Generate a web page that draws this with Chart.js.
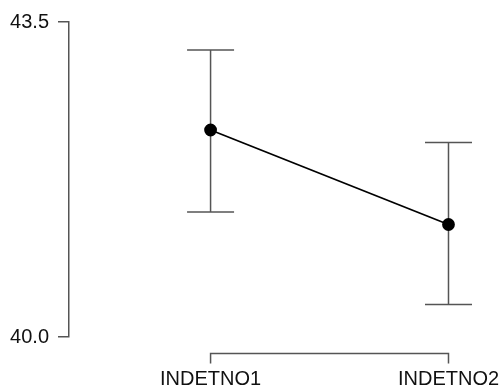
<!DOCTYPE html>
<html>
<head>
<meta charset="utf-8">
<script src="https://cdn.jsdelivr.net/npm/chart.js@4"></script>
<style>
  body { margin: 0; background: #fff; }
  #wrap { width: 501px; height: 389px; }
</style>
</head>
<body>
<div id="wrap"><canvas id="meansChart" width="501" height="389"></canvas></div>
<script>
// values
const categories = ['INDETNO1', 'INDETNO2'];
const means = [42.30, 41.25];
const upper = [43.19, 42.16];
const lower = [41.39, 40.36];
const yTicks = [40.0, 43.5];

const axisColor = '#555';

// error bars + R style bracket axis under the points
const errorBars = {
    id: 'errorBars',
    beforeDatasetsDraw(chart) {
        const { ctx, scales: { x, y }, chartArea } = chart;
        ctx.save();
        ctx.strokeStyle = axisColor;
        ctx.lineWidth = 1.5;
        categories.forEach((c, i) => {
            const px = x.getPixelForValue(i + 1);
            const top = y.getPixelForValue(upper[i]);
            const bot = y.getPixelForValue(lower[i]);
            ctx.beginPath();
            ctx.moveTo(px, top); ctx.lineTo(px, bot);
            ctx.moveTo(px - 23.5, top); ctx.lineTo(px + 23.5, top);
            ctx.moveTo(px - 23.5, bot); ctx.lineTo(px + 23.5, bot);
            ctx.stroke();
        });
        // bottom bracket
        const x1 = x.getPixelForValue(1);
        const x2 = x.getPixelForValue(categories.length);
        const by = chartArea.bottom + 16.5;
        ctx.beginPath();
        ctx.moveTo(x1, by + 10); ctx.lineTo(x1, by);
        ctx.lineTo(x2, by); ctx.lineTo(x2, by + 10);
        ctx.stroke();
        ctx.restore();
    }
};

const ctx = document.getElementById('meansChart').getContext('2d');

const chart = new Chart(ctx, {
    type: 'line',
    data: {
        datasets: [{
            data: means.map((m, i) => ({ x: i + 1, y: m })),
            borderColor: '#000',
            borderWidth: 1.8,
            pointRadius: 5.5,
            pointBackgroundColor: '#000',
            pointBorderColor: '#000',
            tension: 0
        }]
    },
    options: {
        responsive: false,
        animation: false,
        layout: { padding: { top: 22, left: 0, right: 0, bottom: 0 } },
        plugins: { legend: { display: false }, tooltip: { enabled: false } },
        scales: {
            x: {
                type: 'linear',
                min: 0.405,
                max: 2.19,
                afterBuildTicks: s => { s.ticks = [{ value: 1 }, { value: 2 }]; },
                afterFit: s => { s.height = 52; s.paddingLeft = 0; s.paddingRight = 0; },
                border: { display: false },
                grid: { display: false },
                ticks: {
                    padding: 22,
                    color: '#111',
                    font: { family: 'Liberation Sans', size: 20 },
                    callback: v => categories[v - 1] || ''
                }
            },
            y: {
                min: 40,
                max: 43.5,
                afterBuildTicks: s => { s.ticks = yTicks.map(v => ({ value: v })); },
                afterFit: s => { s.width = 69; s.paddingTop = 0; s.paddingBottom = 0; },
                border: { display: true, color: axisColor, width: 1.5 },
                grid: { drawOnChartArea: false, tickLength: 11, color: axisColor, lineWidth: 1.5 },
                ticks: {
                    padding: 9,
                    color: '#111',
                    font: { family: 'Liberation Sans', size: 20 },
                    callback: v => Number(v).toFixed(1)
                }
            }
        }
    },
    plugins: [errorBars]
});
</script>
</body>
</html>
